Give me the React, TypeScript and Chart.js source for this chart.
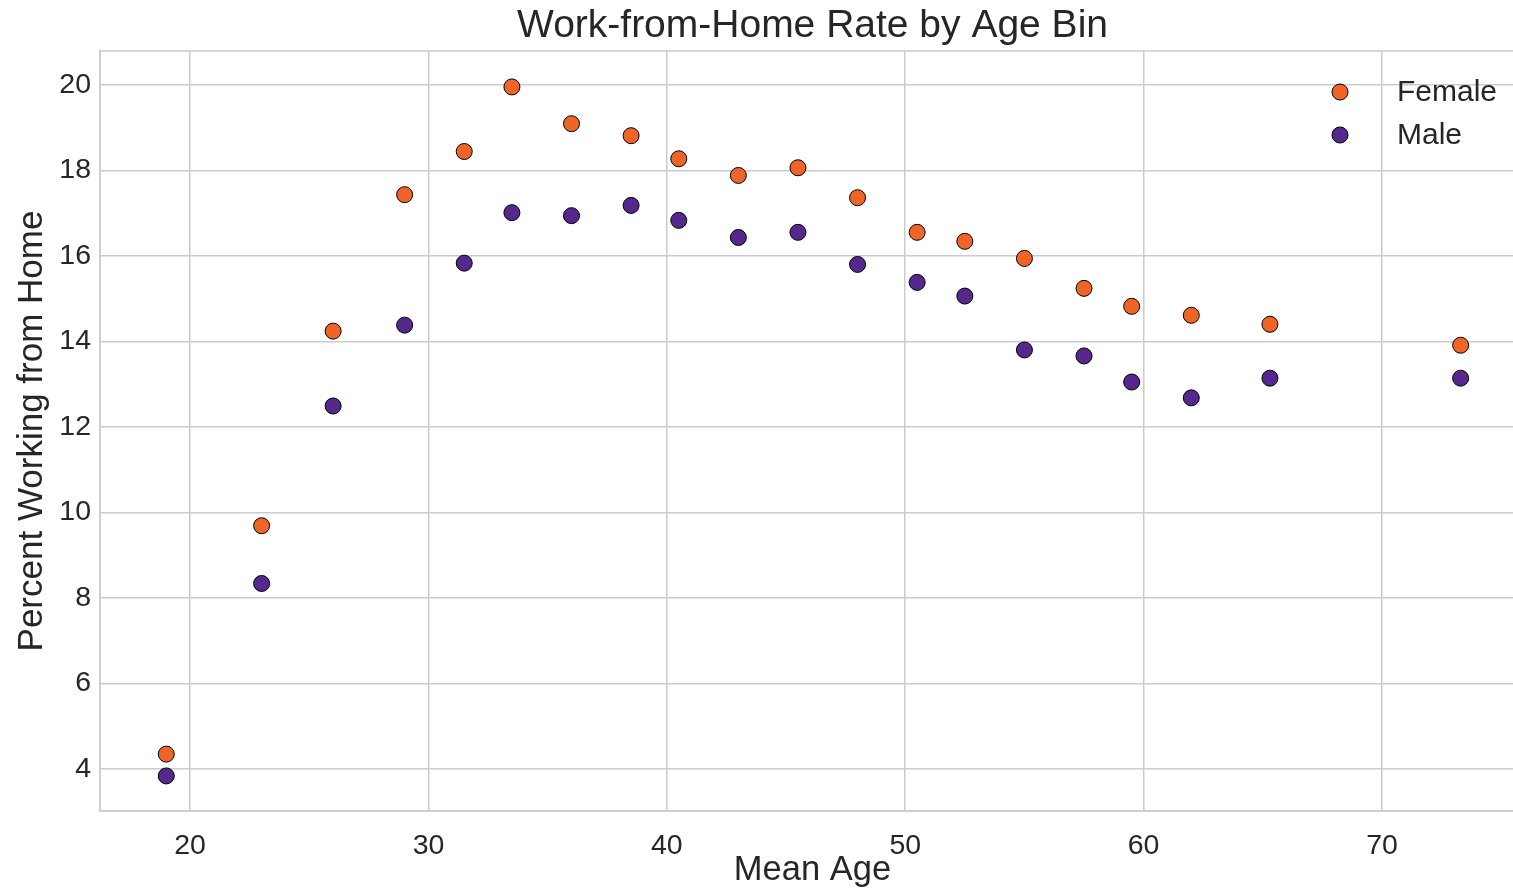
import React, { useEffect, useRef } from "react";
import { Chart, registerables } from "chart.js";

Chart.register(...registerables);

const meanAge = [19.0, 23.0, 26.0, 29.0, 31.5, 33.5, 36.0, 38.5, 40.5, 43.0, 45.5, 48.0, 50.5, 52.5, 55.0, 57.5, 59.5, 62.0, 65.3, 73.3];
const femaleRate = [4.35, 9.69, 14.24, 17.43, 18.44, 19.95, 19.09, 18.81, 18.27, 17.88, 18.06, 17.36, 16.55, 16.34, 15.94, 15.24, 14.82, 14.61, 14.40, 13.91];
const maleRate = [3.84, 8.34, 12.49, 14.38, 15.83, 17.01, 16.94, 17.18, 16.83, 16.43, 16.55, 15.80, 15.38, 15.06, 13.80, 13.66, 13.05, 12.68, 13.14, 13.14];
const xTicks = [20, 30, 40, 50, 60, 70];
const yTicks = [4, 6, 8, 10, 12, 14, 16, 18, 20];
const seriesNames = ["Female", "Male"];
const seriesColors = ["#ef6527", "#55288d"];
const chartTitle = "Work-from-Home Rate by Age Bin";

const FONT = "'Liberation Sans', Arial, Helvetica, sans-serif";
const TEXT = "#262626";
const GRID = "#cccccc";

export default function App() {
  const ref = useRef<HTMLCanvasElement | null>(null);

  useEffect(() => {
    if (!ref.current) return;

    const framePlugin = {
      id: "frame",
      afterDraw(chart: any) {
        const { ctx, chartArea } = chart;
        ctx.save();
        ctx.strokeStyle = GRID;
        ctx.lineWidth = 1.5;
        ctx.strokeRect(chartArea.left, chartArea.top, chartArea.right - chartArea.left - 0.75, chartArea.bottom - chartArea.top);
        ctx.restore();
      },
    };

    const titlePlugin = {
      id: "centeredTitle",
      afterDraw(chart: any) {
        const { ctx, chartArea } = chart;
        ctx.save();
        ctx.fillStyle = TEXT;
        ctx.font = `39px ${FONT}`;
        ctx.textAlign = "center";
        ctx.textBaseline = "middle";
        ctx.fillText(chartTitle, (chartArea.left + chartArea.right) / 2, 26);
        ctx.restore();
      },
    };

    const legendPlugin = {
      id: "customLegend",
      afterDraw(chart: any) {
        const { ctx, chartArea } = chart;
        ctx.save();
        const mx = chartArea.right - 185;
        const tx = chartArea.right - 128;
        seriesNames.forEach((name, i) => {
          const y = chartArea.top + 41 + i * 43;
          ctx.beginPath();
          ctx.arc(mx, y, 8, 0, Math.PI * 2);
          ctx.fillStyle = seriesColors[i];
          ctx.fill();
          ctx.lineWidth = 1;
          ctx.strokeStyle = "#000000";
          ctx.stroke();
          ctx.fillStyle = TEXT;
          ctx.font = `30px ${FONT}`;
          ctx.textAlign = "left";
          ctx.textBaseline = "middle";
          ctx.fillText(name, tx, y + 1);
        });
        ctx.restore();
      },
    };

    const chart = new Chart(ref.current, {
      type: "scatter",
      data: {
        datasets: [
          {
            label: seriesNames[0],
            data: meanAge.map((x, i) => ({ x, y: femaleRate[i] })),
            backgroundColor: seriesColors[0],
            borderColor: "#000000",
            borderWidth: 1,
            pointRadius: 8,
            pointHoverRadius: 8,
          },
          {
            label: seriesNames[1],
            data: meanAge.map((x, i) => ({ x, y: maleRate[i] })),
            backgroundColor: seriesColors[1],
            borderColor: "#000000",
            borderWidth: 1,
            pointRadius: 8,
            pointHoverRadius: 8,
          },
        ],
      },
      options: {
        animation: false,
        responsive: true,
        maintainAspectRatio: false,
        layout: { padding: { top: 51, left: 0, right: 0, bottom: 0 }, autoPadding: false },
        plugins: {
          legend: { display: false },
          tooltip: { enabled: false },
          title: { display: false },
        },
        scales: {
          x: {
            type: "linear",
            min: 16.22,
            max: 76.0,
            afterBuildTicks: (axis: any) => {
              axis.ticks = xTicks.map((v) => ({ value: v }));
            },
            afterFit: (axis: any) => {
              axis.height = 80;
            },
            ticks: {
              color: TEXT,
              font: { family: FONT, size: 28.5 },
              padding: 18,
              maxRotation: 0,
            },
            grid: { color: GRID, lineWidth: 1.5, drawTicks: false },
            border: { display: true, color: GRID, width: 1.5 },
            title: {
              display: true,
              text: "Mean Age",
              color: TEXT,
              font: { family: FONT, size: 34.5, lineHeight: 1.2 },
              padding: { top: 0, bottom: 0 },
            },
          },
          y: {
            type: "linear",
            min: 3.02,
            max: 20.79,
            afterBuildTicks: (axis: any) => {
              axis.ticks = yTicks.map((v) => ({ value: v }));
            },
            afterFit: (axis: any) => {
              axis.width = 100;
            },
            ticks: {
              color: TEXT,
              font: { family: FONT, size: 28.5 },
              padding: 9,
            },
            grid: { color: GRID, lineWidth: 1.5, drawTicks: false },
            border: { display: true, color: GRID, width: 1.5 },
            title: {
              display: true,
              text: "Percent Working from Home",
              color: TEXT,
              font: { family: FONT, size: 35, lineHeight: 1.2 },
              padding: { top: 11, bottom: 0 },
            },
          },
        },
      },
      plugins: [framePlugin, titlePlugin, legendPlugin],
    });

    return () => chart.destroy();
  }, []);

  return (
    <div style={{ position: "absolute", left: 0, top: 0, width: 1513, height: 891, overflow: "hidden", background: "#ffffff" }}>
      <div style={{ position: "relative", width: 1525, height: 891 }}>
        <canvas ref={ref} />
      </div>
    </div>
  );
}
